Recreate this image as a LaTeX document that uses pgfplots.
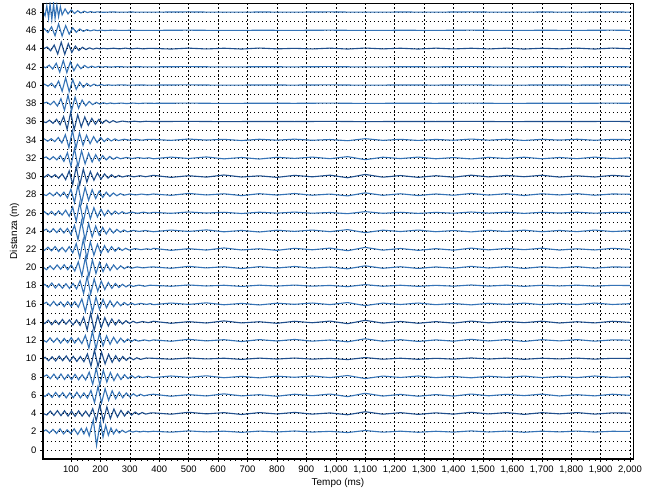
\documentclass[border=0pt]{standalone}
\usepackage{fontspec}
\setmainfont{Liberation Sans}
\usepackage{pgfplots}
\pgfplotsset{compat=1.18}
\definecolor{trc}{HTML}{3573B6}
\definecolor{trcdark}{HTML}{1F4E8C}
\pgfplotsset{tr/.style={trc,line width=1.1bp,no markers},trd/.style={trcdark,line width=1.1bp,no markers}}
\begin{document}
\begin{tikzpicture}
\begin{axis}[name=ax,scale only axis,width=590bp,height=456bp,
xmin=5,xmax=2010,ymin=-1,ymax=49,
xtick={100,200,...,2000},ytick={0,2,...,48},
minor x tick num=4,minor y tick num=1,
scaled x ticks=false,
/pgf/number format/assume math mode=true,
/pgf/number format/1000 sep={,},
tick label style={font=\fontsize{9.5}{10}\selectfont},
label style={font=\fontsize{10}{11}\selectfont},
xlabel={Tempo (ms)},ylabel={Distanza (m)},
xlabel style={yshift=2bp},
xmajorgrids,ymajorgrids,yminorgrids,
major x grid style={black,line width=0.5pt,dash pattern=on 2pt off 2pt},
major y grid style={black,line width=0.5pt,dash pattern=on 1pt off 3pt},
minor y grid style={black,line width=0.5pt,dash pattern=on 1pt off 3pt},
axis line style={black,line width=0.7pt},
tick style={black,line width=0.5pt},
tick align=outside,tick pos=left,
major tick length=3bp,minor tick length=2bp]
% d = 48
\addplot[tr] coordinates {(5,48.1) (12,47.6) (18,48.7) (24,47.3) (29,48.9) (35,47.2) (41,48.9) (46,47.3) (52,48.8) (58,47.5) (64,48.6) (70,47.7) (80,48.35) (90,47.8) (101,48.25) (112,47.85) (123,48.15) (134,47.9) (145,48.1) (156,47.95) (167,48.06) (178,47.97) (189,48.03) (210,47.98) (240,48.02) (270,47.99) (300,48.01) (340,48.0) (380,48.0) (500,48.02) (620,47.99) (740,48.01) (860,48.0) (980,48.02) (1100,47.99) (1220,48.01) (1340,48.0) (1460,48.02) (1580,47.99) (1700,48.01) (1820,48.0) (1940,48.02) (2000,48.0)};
% d = 46
\addplot[tr] coordinates {(5,46.0) (10,46.18) (22,45.76) (34,46.39) (46,45.41) (58,46.7) (70,45.37) (82,46.53) (94,45.58) (106,46.28) (118,45.79) (130,46.15) (142,45.89) (154,46.08) (166,45.94) (178,46.05) (190,45.97) (202,46.03) (214,45.98) (240,46.02) (270,45.99) (300,46.01) (340,46.0) (380,46.0) (500,46.02) (620,45.99) (740,46.01) (860,46.0) (980,46.02) (1100,45.99) (1220,46.01) (1340,46.0) (1460,46.02) (1580,45.99) (1700,46.01) (1820,46.0) (1940,46.02) (2000,46.0)};
% d = 44
\addplot[trd] coordinates {(5,43.95) (19,44.18) (31,43.76) (43,44.39) (55,43.41) (67,44.7) (79,43.37) (91,44.53) (103,43.58) (115,44.28) (127,43.79) (139,44.15) (151,43.89) (163,44.08) (175,43.94) (187,44.05) (199,43.97) (211,44.03) (223,43.98) (245,44.04) (265,43.97) (285,44.05) (305,43.96) (325,44.04) (345,43.97) (365,44.03) (380,44.02) (440,43.95) (500,44.05) (560,43.96) (620,44.04) (680,43.95) (740,44.06) (800,43.97) (860,44.03) (920,43.96) (980,44.05) (1040,43.95) (1100,44.06) (1160,43.97) (1220,44.04) (1280,43.95) (1340,44.05) (1400,43.96) (1460,44.04) (1520,43.96) (1580,44.05) (1640,43.95) (1700,44.04) (1760,43.97) (1820,44.05) (1880,43.95) (1940,44.06) (2000,43.98)};
% d = 42
\addplot[tr] coordinates {(5,42.03) (14,41.9) (26,42.18) (38,41.76) (50,42.39) (62,41.41) (74,42.7) (86,41.37) (98,42.53) (110,41.58) (122,42.28) (134,41.79) (146,42.15) (158,41.89) (170,42.08) (182,41.94) (194,42.05) (206,41.97) (218,42.03) (230,41.98) (260,42.02) (290,41.99) (320,42.01) (350,42.0) (380,42.0) (500,42.02) (620,41.99) (740,42.01) (860,42.0) (980,42.02) (1100,41.99) (1220,42.01) (1340,42.0) (1460,42.02) (1580,41.99) (1700,42.01) (1820,42.0) (1940,42.02) (2000,42.0)};
% d = 40
\addplot[tr] coordinates {(5,40.0) (10,40.1) (22,39.88) (34,40.2) (46,39.72) (58,40.44) (70,39.32) (82,40.8) (94,39.28) (106,40.6) (118,39.52) (130,40.32) (142,39.76) (154,40.18) (166,39.87) (178,40.1) (190,39.93) (202,40.06) (214,39.96) (226,40.03) (238,39.98) (270,40.02) (300,39.99) (330,40.01) (360,40.0) (380,40.0) (500,40.02) (620,39.99) (740,40.01) (860,40.0) (980,40.02) (1100,39.99) (1220,40.01) (1340,40.0) (1460,40.02) (1580,39.99) (1700,40.01) (1820,40.0) (1940,40.02) (2000,40.0)};
% d = 38
\addplot[tr] coordinates {(5,38.0) (18,38.12) (30,37.85) (42,38.23) (54,37.69) (66,38.5) (78,37.24) (90,38.9) (102,37.19) (114,38.68) (126,37.46) (138,38.36) (150,37.73) (162,38.2) (174,37.85) (186,38.11) (198,37.92) (210,38.06) (222,37.95) (234,38.04) (246,37.97) (270,38.03) (290,37.97) (310,38.03) (330,37.98) (350,38.02) (380,38.0) (500,38.02) (620,37.99) (740,38.01) (860,38.0) (980,38.02) (1100,37.99) (1220,38.01) (1340,38.0) (1460,38.02) (1580,37.99) (1700,38.01) (1820,38.0) (1940,38.02) (2000,38.0)};
% d = 36
\addplot[trd] coordinates {(5,36.0) (15,35.88) (27,36.15) (39,35.8) (51,36.25) (63,35.65) (75,36.55) (87,35.15) (99,37.0) (111,35.1) (123,36.75) (135,35.4) (147,36.5) (159,35.58) (171,36.35) (183,35.7) (195,36.25) (207,35.8) (219,36.16) (231,35.87) (243,36.1) (255,35.92) (275,36.05) (295,35.96) (315,36.04) (335,35.97) (355,36.03) (380,36.0) (500,36.02) (620,35.99) (740,36.01) (860,36.0) (980,36.02) (1100,35.99) (1220,36.01) (1340,36.0) (1460,36.02) (1580,35.99) (1700,36.01) (1820,36.0) (1940,36.02) (2000,36.0)};
% d = 34
\addplot[tr] coordinates {(5,34.0) (9,34.1) (21,33.85) (33,34.12) (45,33.8) (57,34.25) (69,33.65) (81,34.55) (93,33.15) (105,35.0) (117,33.1) (129,34.75) (141,33.4) (153,34.5) (165,33.58) (177,34.35) (189,33.7) (201,34.25) (213,33.8) (225,34.16) (237,33.87) (249,34.1) (261,33.92) (281,34.06) (301,33.95) (321,34.05) (341,33.96) (361,34.04) (380,34.04) (440,33.94) (500,34.08) (560,33.97) (620,34.05) (680,33.92) (740,34.06) (800,33.96) (860,34.07) (920,33.95) (980,34.03) (1040,33.90) (1100,34.12) (1160,33.94) (1220,34.05) (1280,33.93) (1340,34.04) (1400,33.95) (1460,34.08) (1520,33.96) (1580,34.06) (1640,33.93) (1700,34.05) (1760,33.97) (1820,34.06) (1880,33.95) (1940,34.04) (2000,34.02)};
% d = 32
\addplot[tr] coordinates {(5,32.0) (16,32.12) (28,31.82) (40,32.15) (52,31.8) (64,32.26) (76,31.63) (88,32.58) (100,31.11) (112,33.05) (124,31.05) (136,32.79) (148,31.37) (160,32.53) (172,31.56) (184,32.37) (196,31.68) (208,32.26) (220,31.79) (232,32.17) (244,31.86) (256,32.1) (268,31.92) (288,32.06) (308,31.95) (328,32.05) (348,31.96) (365,32.03) (380,31.92) (440,32.10) (500,31.95) (560,32.12) (620,31.91) (680,32.06) (740,31.89) (800,32.08) (860,31.96) (920,32.10) (980,31.93) (1040,32.15) (1100,31.82) (1160,32.09) (1220,31.94) (1280,32.10) (1340,31.92) (1400,32.05) (1460,31.90) (1520,32.07) (1580,31.95) (1640,32.09) (1700,31.92) (1760,32.06) (1820,31.93) (1880,32.10) (1940,31.94) (2000,32.03)};
% d = 30
\addplot[trd] coordinates {(5,30.0) (10,29.9) (22,30.2) (34,29.88) (46,30.18) (58,29.78) (70,30.26) (82,29.63) (94,30.58) (106,29.11) (118,31.05) (130,29.05) (142,30.79) (154,29.37) (166,30.53) (178,29.56) (190,30.37) (202,29.68) (214,30.26) (226,29.79) (238,30.17) (250,29.86) (262,30.1) (274,29.92) (294,30.07) (314,29.94) (334,30.06) (354,29.95) (368,30.03) (380,30.10) (440,29.88) (500,30.06) (560,29.91) (620,30.14) (680,29.92) (740,30.05) (800,29.88) (860,30.10) (920,29.94) (980,30.12) (1040,29.84) (1100,30.20) (1160,29.90) (1220,30.08) (1280,29.88) (1340,30.06) (1400,29.90) (1460,30.12) (1520,29.93) (1580,30.09) (1640,29.95) (1700,30.11) (1760,29.91) (1820,30.05) (1880,29.92) (1940,30.10) (2000,29.98)};
% d = 28
\addplot[tr] coordinates {(5,28.05) (16,27.88) (28,28.18) (40,27.85) (52,28.25) (64,27.8) (76,28.26) (88,27.63) (100,28.58) (112,27.11) (124,29.05) (136,27.05) (148,28.79) (160,27.37) (172,28.53) (184,27.56) (196,28.37) (208,27.68) (220,28.26) (232,27.79) (244,28.17) (256,27.86) (268,28.1) (280,27.92) (300,28.06) (320,27.95) (340,28.05) (360,27.96) (380,28.06) (440,27.91) (500,28.12) (560,27.95) (620,28.08) (680,27.88) (740,28.09) (800,27.94) (860,28.11) (920,27.92) (980,28.05) (1040,27.85) (1100,28.18) (1160,27.91) (1220,28.08) (1280,27.89) (1340,28.06) (1400,27.92) (1460,28.12) (1520,27.94) (1580,28.09) (1640,27.89) (1700,28.08) (1760,27.95) (1820,28.09) (1880,27.92) (1940,28.06) (2000,28.03)};
% d = 26
\addplot[tr] coordinates {(5,26.0) (10,26.12) (22,25.78) (34,26.15) (46,25.72) (58,26.2) (70,25.75) (82,26.28) (94,25.61) (106,26.61) (118,25.06) (130,27.1) (142,25.01) (154,26.83) (166,25.34) (178,26.55) (190,25.54) (202,26.39) (214,25.67) (226,26.28) (238,25.78) (250,26.18) (262,25.86) (274,26.11) (286,25.91) (306,26.07) (326,25.94) (346,26.06) (366,25.96) (380,26.04) (440,25.94) (500,26.08) (560,25.97) (620,26.05) (680,25.92) (740,26.06) (800,25.96) (860,26.07) (920,25.95) (980,26.03) (1040,25.90) (1100,26.12) (1160,25.94) (1220,26.05) (1280,25.93) (1340,26.04) (1400,25.95) (1460,26.08) (1520,25.96) (1580,26.06) (1640,25.93) (1700,26.05) (1760,25.97) (1820,26.06) (1880,25.95) (1940,26.04) (2000,26.02)};
% d = 24
\addplot[tr] coordinates {(5,24.0) (16,24.2) (28,23.85) (40,24.25) (52,23.82) (64,24.28) (76,23.78) (88,24.28) (100,23.61) (112,24.61) (124,23.06) (136,25.1) (148,23.01) (160,24.83) (172,23.34) (184,24.55) (196,23.54) (208,24.39) (220,23.67) (232,24.28) (244,23.78) (256,24.18) (268,23.86) (280,24.11) (292,23.91) (312,24.06) (332,23.95) (352,24.05) (370,23.97) (380,23.92) (440,24.10) (500,23.95) (560,24.12) (620,23.91) (680,24.06) (740,23.89) (800,24.08) (860,23.96) (920,24.10) (980,23.93) (1040,24.15) (1100,23.82) (1160,24.09) (1220,23.94) (1280,24.10) (1340,23.92) (1400,24.05) (1460,23.90) (1520,24.07) (1580,23.95) (1640,24.09) (1700,23.92) (1760,24.06) (1820,23.93) (1880,24.10) (1940,23.94) (2000,24.03)};
% d = 22
\addplot[tr] coordinates {(5,22.0) (10,21.88) (22,22.22) (34,21.82) (46,22.3) (58,21.75) (70,22.2) (82,21.72) (94,22.28) (106,21.61) (118,22.61) (130,21.06) (142,23.1) (154,21.01) (166,22.83) (178,21.34) (190,22.55) (202,21.54) (214,22.39) (226,21.67) (238,22.28) (250,21.78) (262,22.18) (274,21.86) (286,22.11) (298,21.91) (318,22.07) (338,21.95) (358,22.05) (372,21.97) (380,22.10) (440,21.88) (500,22.06) (560,21.91) (620,22.14) (680,21.92) (740,22.05) (800,21.88) (860,22.10) (920,21.94) (980,22.12) (1040,21.84) (1100,22.20) (1160,21.90) (1220,22.08) (1280,21.88) (1340,22.06) (1400,21.90) (1460,22.12) (1520,21.93) (1580,22.09) (1640,21.95) (1700,22.11) (1760,21.91) (1820,22.05) (1880,21.92) (1940,22.10) (2000,21.98)};
% d = 20
\addplot[tr] coordinates {(5,20.05) (17,19.75) (29,20.18) (41,19.78) (53,20.28) (65,19.8) (77,20.3) (89,19.75) (101,20.28) (113,19.61) (125,20.61) (137,19.06) (149,21.1) (161,19.01) (173,20.83) (185,19.34) (197,20.55) (209,19.54) (221,20.39) (233,19.67) (245,20.28) (257,19.78) (269,20.18) (281,19.86) (293,20.11) (305,19.91) (325,20.06) (345,19.95) (365,20.04) (380,20.06) (440,19.91) (500,20.12) (560,19.95) (620,20.08) (680,19.88) (740,20.09) (800,19.94) (860,20.11) (920,19.92) (980,20.05) (1040,19.85) (1100,20.18) (1160,19.91) (1220,20.08) (1280,19.89) (1340,20.06) (1400,19.92) (1460,20.12) (1520,19.94) (1580,20.09) (1640,19.89) (1700,20.08) (1760,19.95) (1820,20.09) (1880,19.92) (1940,20.06) (2000,20.03)};
% d = 18
\addplot[tr] coordinates {(5,18.0) (11,18.15) (23,17.82) (35,18.3) (47,17.75) (59,18.2) (71,17.72) (83,18.22) (95,17.7) (107,18.25) (119,17.65) (131,18.55) (143,17.15) (155,19.0) (167,17.1) (179,18.75) (191,17.4) (203,18.5) (215,17.58) (227,18.35) (239,17.7) (251,18.25) (263,17.8) (275,18.16) (287,17.87) (299,18.1) (311,17.92) (331,18.07) (351,17.94) (368,18.05) (380,18.04) (440,17.94) (500,18.08) (560,17.97) (620,18.05) (680,17.92) (740,18.06) (800,17.96) (860,18.07) (920,17.95) (980,18.03) (1040,17.90) (1100,18.12) (1160,17.94) (1220,18.05) (1280,17.93) (1340,18.04) (1400,17.95) (1460,18.08) (1520,17.96) (1580,18.06) (1640,17.93) (1700,18.05) (1760,17.97) (1820,18.06) (1880,17.95) (1940,18.04) (2000,18.02)};
% d = 16
\addplot[tr] coordinates {(5,16.0) (17,16.18) (29,15.78) (41,16.28) (53,15.8) (65,16.22) (77,15.7) (89,16.25) (101,15.72) (113,16.25) (125,15.65) (137,16.55) (149,15.15) (161,17.0) (173,15.1) (185,16.75) (197,15.4) (209,16.5) (221,15.58) (233,16.35) (245,15.7) (257,16.25) (269,15.8) (281,16.16) (293,15.87) (305,16.1) (317,15.92) (337,16.06) (357,15.95) (370,16.04) (380,15.92) (440,16.10) (500,15.95) (560,16.12) (620,15.91) (680,16.06) (740,15.89) (800,16.08) (860,15.96) (920,16.10) (980,15.93) (1040,16.15) (1100,15.82) (1160,16.09) (1220,15.94) (1280,16.10) (1340,15.92) (1400,16.05) (1460,15.90) (1520,16.07) (1580,15.95) (1640,16.09) (1700,15.92) (1760,16.06) (1820,15.93) (1880,16.10) (1940,15.94) (2000,16.03)};
% d = 14
\addplot[trd] coordinates {(5,14.0) (11,13.85) (23,14.22) (35,13.72) (47,14.2) (59,13.75) (71,14.3) (83,13.78) (95,14.25) (107,13.7) (119,14.25) (131,13.65) (143,14.55) (155,13.15) (167,15.0) (179,13.1) (191,14.75) (203,13.4) (215,14.5) (227,13.58) (239,14.35) (251,13.7) (263,14.25) (275,13.8) (287,14.16) (299,13.87) (311,14.1) (323,13.92) (343,14.07) (363,13.95) (380,14.10) (440,13.88) (500,14.06) (560,13.91) (620,14.14) (680,13.92) (740,14.05) (800,13.88) (860,14.10) (920,13.94) (980,14.12) (1040,13.84) (1100,14.20) (1160,13.90) (1220,14.08) (1280,13.88) (1340,14.06) (1400,13.90) (1460,14.12) (1520,13.93) (1580,14.09) (1640,13.95) (1700,14.11) (1760,13.91) (1820,14.05) (1880,13.92) (1940,14.10) (2000,13.98)};
% d = 12
\addplot[tr] coordinates {(5,12.05) (17,11.82) (29,12.28) (41,11.8) (53,12.25) (65,11.7) (77,12.22) (89,11.75) (101,12.3) (113,11.72) (125,12.25) (137,11.65) (149,12.55) (161,11.15) (173,13.0) (185,11.1) (197,12.75) (209,11.4) (221,12.5) (233,11.58) (245,12.35) (257,11.7) (269,12.25) (281,11.8) (293,12.16) (305,11.87) (317,12.1) (329,11.92) (349,12.06) (366,11.95) (380,12.06) (440,11.91) (500,12.12) (560,11.95) (620,12.08) (680,11.88) (740,12.09) (800,11.94) (860,12.11) (920,11.92) (980,12.05) (1040,11.85) (1100,12.18) (1160,11.91) (1220,12.08) (1280,11.89) (1340,12.06) (1400,11.92) (1460,12.12) (1520,11.94) (1580,12.09) (1640,11.89) (1700,12.08) (1760,11.95) (1820,12.09) (1880,11.92) (1940,12.06) (2000,12.03)};
% d = 10
\addplot[trd] coordinates {(5,10.0) (12,10.15) (24,9.78) (36,10.2) (48,9.75) (60,10.28) (72,9.78) (84,10.3) (96,9.72) (108,10.25) (120,9.7) (132,10.24) (144,9.67) (156,10.52) (168,9.19) (180,10.95) (192,9.14) (204,10.71) (216,9.43) (228,10.48) (240,9.6) (252,10.33) (264,9.71) (276,10.24) (288,9.81) (300,10.15) (312,9.88) (324,10.1) (336,9.92) (356,10.07) (380,10.04) (440,9.94) (500,10.08) (560,9.97) (620,10.05) (680,9.92) (740,10.06) (800,9.96) (860,10.07) (920,9.95) (980,10.03) (1040,9.90) (1100,10.12) (1160,9.94) (1220,10.05) (1280,9.93) (1340,10.04) (1400,9.95) (1460,10.08) (1520,9.96) (1580,10.06) (1640,9.93) (1700,10.05) (1760,9.97) (1820,10.06) (1880,9.95) (1940,10.04) (2000,10.02)};
% d = 8
\addplot[tr] coordinates {(5,8.0) (18,8.22) (30,7.8) (42,8.3) (54,7.75) (66,8.32) (78,7.72) (90,8.25) (102,7.7) (114,8.28) (126,7.68) (138,8.24) (150,7.67) (162,8.52) (174,7.19) (186,8.95) (198,7.14) (210,8.71) (222,7.43) (234,8.48) (246,7.6) (258,8.33) (270,7.71) (282,8.24) (294,7.81) (306,8.15) (318,7.88) (330,8.1) (342,7.92) (362,8.06) (380,7.92) (440,8.10) (500,7.95) (560,8.12) (620,7.91) (680,8.06) (740,7.89) (800,8.08) (860,7.96) (920,8.10) (980,7.93) (1040,8.15) (1100,7.82) (1160,8.09) (1220,7.94) (1280,8.10) (1340,7.92) (1400,8.05) (1460,7.90) (1520,8.07) (1580,7.95) (1640,8.09) (1700,7.92) (1760,8.06) (1820,7.93) (1880,8.10) (1940,7.94) (2000,8.03)};
% d = 6
\addplot[tr] coordinates {(5,6.0) (12,5.85) (24,6.2) (36,5.75) (48,6.3) (60,5.78) (72,6.28) (84,5.7) (96,6.25) (108,5.72) (120,6.32) (132,5.7) (144,6.24) (156,5.67) (168,6.52) (180,5.19) (192,6.95) (204,5.14) (216,6.71) (228,5.43) (240,6.48) (252,5.6) (264,6.33) (276,5.71) (288,6.24) (300,5.81) (312,6.15) (324,5.88) (336,6.1) (348,5.92) (366,6.05) (380,6.10) (440,5.88) (500,6.06) (560,5.91) (620,6.14) (680,5.92) (740,6.05) (800,5.88) (860,6.10) (920,5.94) (980,6.12) (1040,5.84) (1100,6.20) (1160,5.90) (1220,6.08) (1280,5.88) (1340,6.06) (1400,5.90) (1460,6.12) (1520,5.93) (1580,6.09) (1640,5.95) (1700,6.11) (1760,5.91) (1820,6.05) (1880,5.92) (1940,6.10) (2000,5.98)};
% d = 4
\addplot[trd] coordinates {(5,4.0) (18,3.82) (30,4.25) (42,3.78) (54,4.3) (66,3.75) (78,4.28) (90,3.7) (102,4.25) (114,3.68) (126,4.28) (138,3.7) (150,4.24) (162,3.67) (174,4.52) (186,3.19) (198,4.95) (210,3.14) (222,4.71) (234,3.43) (246,4.48) (258,3.6) (270,4.33) (282,3.71) (294,4.24) (306,3.81) (318,4.15) (330,3.88) (342,4.1) (354,3.92) (370,4.04) (380,4.06) (440,3.91) (500,4.12) (560,3.95) (620,4.08) (680,3.88) (740,4.09) (800,3.94) (860,4.11) (920,3.92) (980,4.05) (1040,3.85) (1100,4.18) (1160,3.91) (1220,4.08) (1280,3.89) (1340,4.06) (1400,3.92) (1460,4.12) (1520,3.94) (1580,4.09) (1640,3.89) (1700,4.08) (1760,3.95) (1820,4.09) (1880,3.92) (1940,4.06) (2000,4.03)};
% d = 2
\addplot[tr] coordinates {(5,2.0) (15,2.2) (27,1.85) (39,2.25) (51,1.8) (63,2.3) (75,1.75) (87,2.2) (99,1.8) (111,2.3) (123,1.7) (135,2.35) (144,1.75) (153,2.4) (162,1.55) (176,3.3) (187,0.5) (200,3.1) (209,1.4) (218,2.7) (227,1.6) (236,2.4) (245,1.75) (254,2.25) (264,1.85) (274,2.15) (286,1.9) (298,2.1) (310,1.95) (322,2.06) (334,1.96) (346,2.04) (362,1.98) (380,2.04) (440,1.94) (500,2.08) (560,1.97) (620,2.05) (680,1.92) (740,2.06) (800,1.96) (860,2.07) (920,1.95) (980,2.03) (1040,1.90) (1100,2.12) (1160,1.94) (1220,2.05) (1280,1.93) (1340,2.04) (1400,1.95) (1460,2.08) (1520,1.96) (1580,2.06) (1640,1.93) (1700,2.05) (1760,1.97) (1820,2.06) (1880,1.95) (1940,2.04) (2000,2.02)};
\end{axis}
\draw[black,line width=1.6pt] (ax.north west) -- (ax.south west) -- (ax.south east);
\path ([xshift=-43bp,yshift=-33bp]ax.south west) rectangle ([xshift=26bp,yshift=3bp]ax.north east);
\end{tikzpicture}
\end{document}
